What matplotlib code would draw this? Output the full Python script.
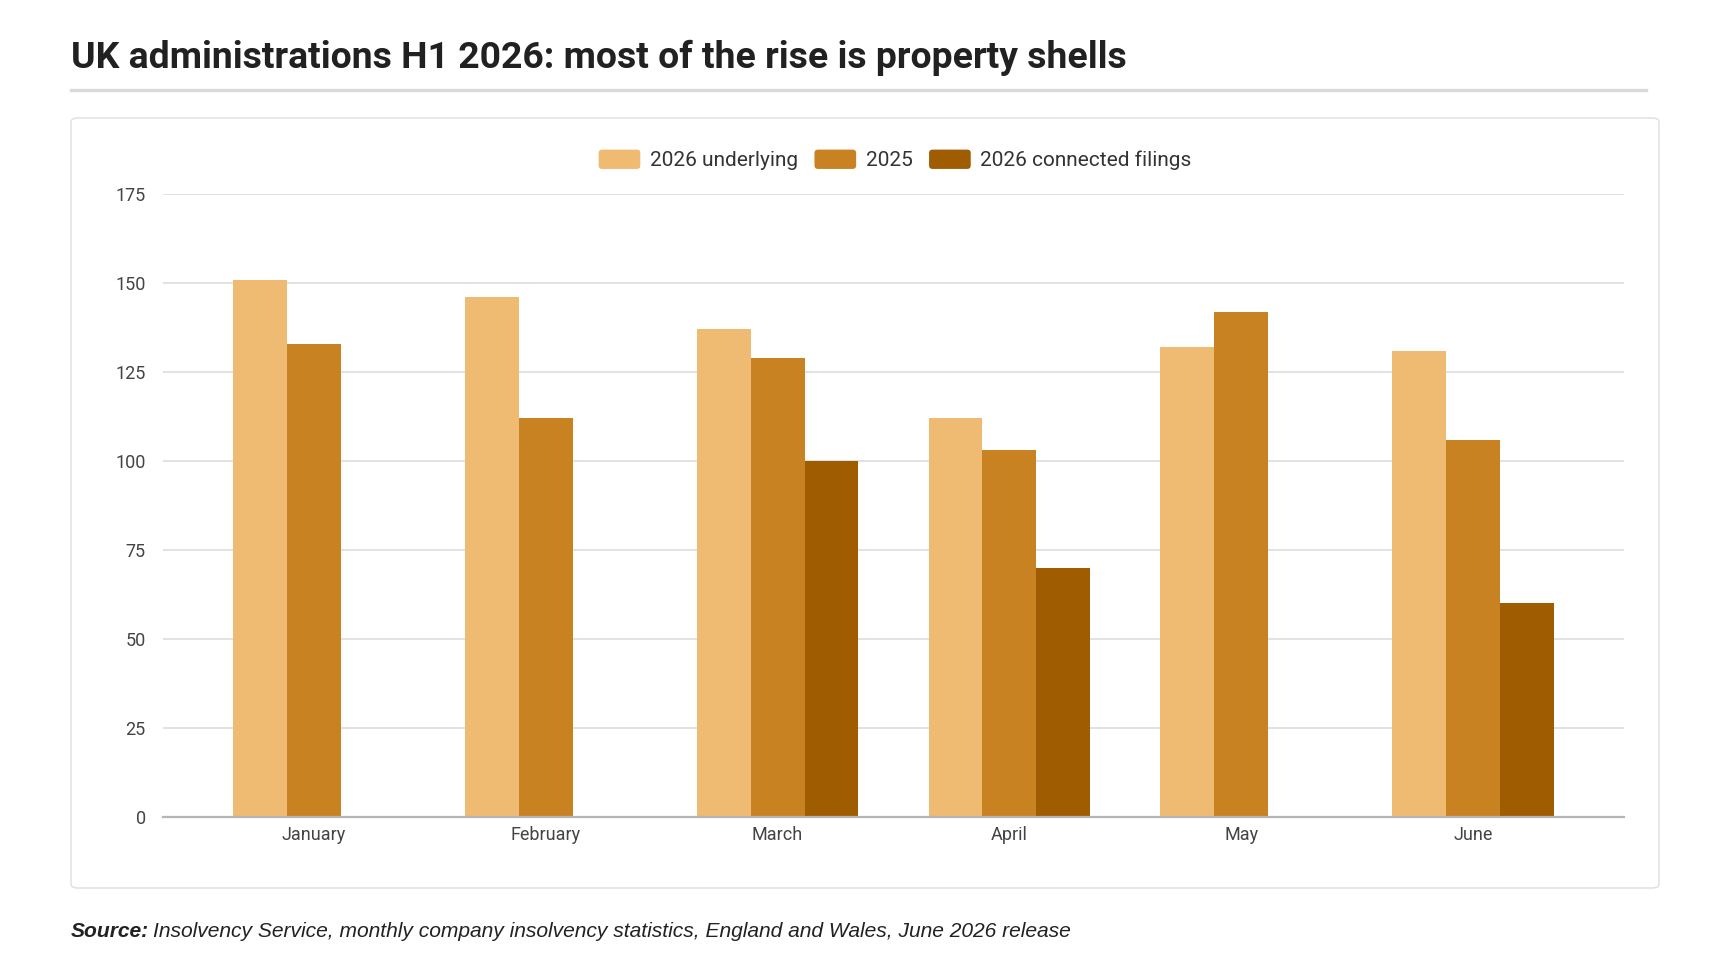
import numpy as np
import matplotlib
matplotlib.use("Agg")
import matplotlib.pyplot as plt
from matplotlib.patches import FancyBboxPatch, Patch
from matplotlib.lines import Line2D
from matplotlib.legend_handler import HandlerPatch

# chart data
months = ["January", "February", "March", "April", "May", "June"]
underlying_2026 = [151, 146, 137, 112, 132, 131]
values_2025 = [133, 112, 129, 103, 142, 106]
connected_2026 = [0, 0, 100, 70, 0, 60]
series_names = ["2026 underlying", "2025", "2026 connected filings"]
series_colors = ["#EFBA72", "#C98222", "#A05C00"]
y_ticks = [0, 25, 50, 75, 100, 125, 150, 175]

W, H = 1731, 973


class RoundSwatch(HandlerPatch):
    # legend box with slightly rounded corners
    def create_artists(self, legend, orig_handle, xdescent, ydescent, width, height, fontsize, trans):
        p = FancyBboxPatch((-xdescent, -ydescent), width, height,
                           boxstyle="round,pad=0,rounding_size=2.5",
                           facecolor=orig_handle.get_facecolor(), edgecolor="none")
        p.set_transform(trans)
        return [p]


fig = plt.figure(figsize=(W / 100, H / 100), dpi=100)
fig.patch.set_facecolor("white")

# title + rule under it
fig.text(71 / W, 1 - 68 / H, "UK administrations H1 2026: most of the rise is property shells",
         family="Roboto", weight="bold", fontsize=26.9, color="#212121", va="baseline", ha="left")
fig.add_artist(Line2D([71 / W, 1646 / W], [1 - 90 / H, 1 - 90 / H], color="#dadada", lw=2.4))

# card around the chart
card = FancyBboxPatch((71 / W, 1 - 888 / H), (1659 - 71) / W, (888 - 118) / H,
                      boxstyle="round,pad=0,rounding_size=0.004", transform=fig.transFigure,
                      facecolor="white", edgecolor="#dedede", lw=1.0, zorder=0)
fig.add_artist(card)

ax = fig.add_axes([163 / W, 1 - 816.7 / H, (1624 - 163) / W, (816.7 - 194.3) / H])
ax.set_facecolor("none")

x = np.arange(len(months))
bw = 0.232
all_series = [underlying_2026, values_2025, connected_2026]
for i, (vals, col) in enumerate(zip(all_series, series_colors)):
    ax.bar(x + (i - 1) * bw, vals, width=bw, color=col, zorder=3, linewidth=0)

ax.set_xlim(-0.652, 5.652)
ax.set_ylim(0, 175)
ax.set_yticks(y_ticks)
ax.set_xticks(x)
ax.set_xticklabels(months)
ax.grid(axis="y", color="#dddddd", lw=1.2, zorder=0)
ax.tick_params(axis="both", length=0, labelsize=13, labelcolor="#444444")
ax.tick_params(axis="y", pad=12.5)
ax.tick_params(axis="x", pad=6.5)
for lbl in ax.get_xticklabels() + ax.get_yticklabels():
    lbl.set_family("Roboto")
for s in ["top", "right", "left"]:
    ax.spines[s].set_visible(False)
ax.spines["bottom"].set_color("#b5b5b5")
ax.spines["bottom"].set_linewidth(1.6)
ax.spines["bottom"].set_zorder(4)

handles = [Patch(facecolor=c, edgecolor="none") for c in series_colors]
fig.legend(handles, series_names, loc="center", bbox_to_anchor=(895 / W, 1 - 160 / H),
           ncol=3, frameon=False, prop={"family": "Roboto", "size": 15},
           labelcolor="#333333", handlelength=2.0, handleheight=1.05,
           handletextpad=0.45, columnspacing=0.8,
           handler_map={Patch: RoundSwatch()})

# source line
t1 = fig.text(71 / W, 1 - 937 / H, "Source:", family="Liberation Sans", weight="bold",
              style="italic", fontsize=15.1, color="#222222", va="baseline")
fig.canvas.draw()
bb = t1.get_window_extent()
fig.text((bb.x1 + 4) / W, 1 - 937 / H,
         "Insolvency Service, monthly company insolvency statistics, England and Wales, June 2026 release",
         family="Liberation Sans", style="italic", fontsize=15.1, color="#222222", va="baseline")

fig.savefig("out.png", dpi=100, facecolor="white")
